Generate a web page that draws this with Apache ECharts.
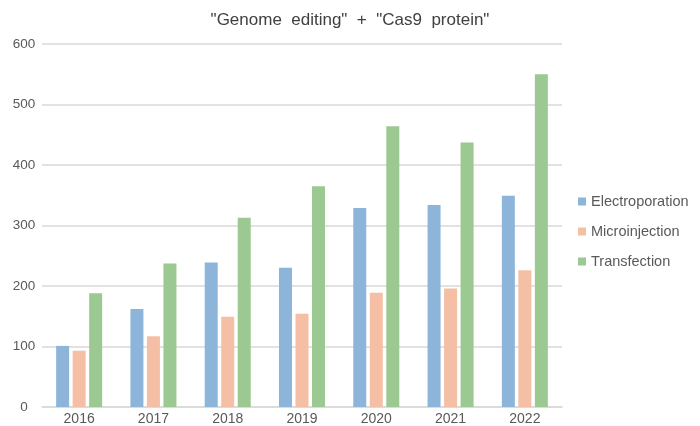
<!DOCTYPE html>
<html lang="en">

<head>
    <meta charset="UTF-8">
    <title>Genome editing + Cas9 protein</title>
    <script src="https://cdn.jsdelivr.net/npm/echarts@6/dist/echarts.min.js"></script>
    <style>
        body { margin: 0; background: #fff; }
    </style>
</head>

<body>
    <div id="main" style="width: 700px;height:426px;"></div>
    <script type="text/javascript">
        // data
        const years = ['2016', '2017', '2018', '2019', '2020', '2021', '2022'];
        const electroporation = [101, 162, 239, 230, 329, 334, 349];
        const microinjection = [93, 117, 149, 154, 189, 196, 226];
        const transfection = [188, 237, 313, 365, 464, 437, 550];

        const labelFont = 'Liberation Sans, Arial, sans-serif';

        let options = {
            title: {
                text: '"Genome  editing"  +  "Cas9  protein"',
                left: 'center',
                top: 7,
                textStyle: { fontFamily: labelFont, fontSize: 17, fontWeight: 'normal', color: '#404040' }
            },
            legend: {
                orient: 'vertical',
                left: 573,
                top: 189,
                itemWidth: 8,
                itemHeight: 8,
                itemGap: 15,
                icon: 'rect',
                textStyle: { fontFamily: labelFont, fontSize: 14.5, color: '#595959' }
            },
            grid: { left: 42, right: 138, top: 44, bottom: 19, containLabel: false },
            xAxis: {
                type: 'category',
                data: years,
                axisLine: { lineStyle: { color: '#d9d9d9', width: 1.5 } },
                axisTick: { show: false },
                axisLabel: { fontFamily: labelFont, fontSize: 14, color: '#595959', margin: 5 }
            },
            yAxis: {
                type: 'value',
                min: 0,
                max: 600,
                interval: 100,
                axisLine: { show: false },
                axisTick: { show: false },
                splitLine: { lineStyle: { color: '#d9d9d9', width: 1.5 } },
                axisLabel: { fontFamily: labelFont, fontSize: 13.5, color: '#595959', align: 'center', margin: 18 }
            },
            series: [
                { name: 'Electroporation', type: 'bar', data: electroporation, barWidth: 13, barGap: '27%',
                  itemStyle: { color: '#8db5da' } },
                { name: 'Microinjection', type: 'bar', data: microinjection, barWidth: 13, barGap: '27%',
                  itemStyle: { color: '#f4bfa5' } },
                { name: 'Transfection', type: 'bar', data: transfection, barWidth: 13, barGap: '27%',
                  itemStyle: { color: '#9cc891' } }
            ]
        };

        let myChart = echarts.init(document.getElementById('main'));
        myChart.setOption(options);
    </script>
</body>

</html>
